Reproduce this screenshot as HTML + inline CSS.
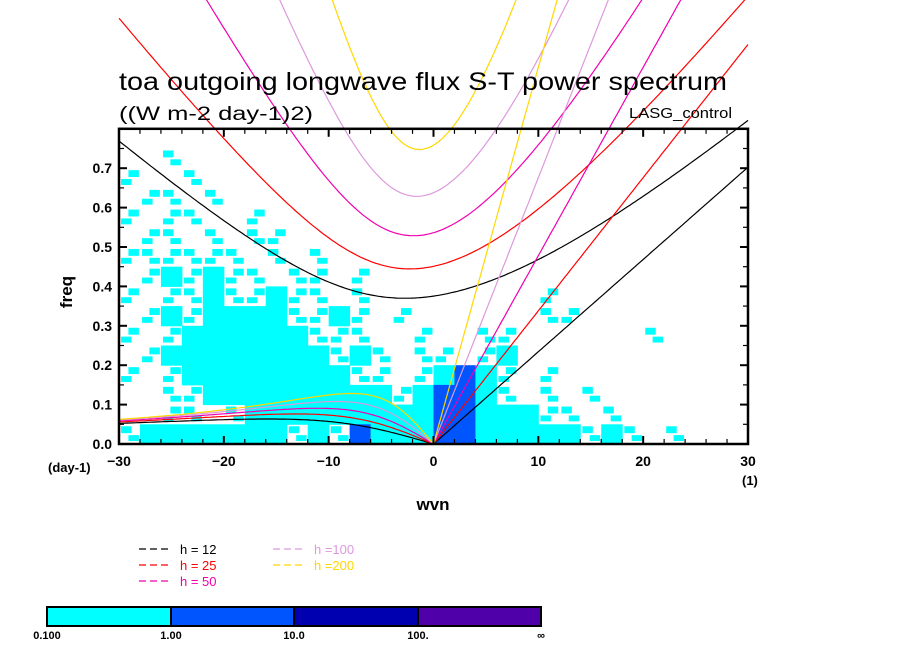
<!DOCTYPE html>
<html><head><meta charset="utf-8"><style>
html,body{margin:0;padding:0;background:#fff;}
svg{display:block;font-family:"Liberation Sans",sans-serif;}
</style></head><body>
<svg id="chart" width="904" height="654" viewBox="0 0 904 654">
<g id="field"></g>
<g id="curves"></g>
<g id="axes"></g>
<text x="119" y="90" font-size="25" textLength="608" lengthAdjust="spacingAndGlyphs">toa outgoing longwave flux S-T power spectrum</text>
<text x="119" y="120" font-size="19" textLength="194" lengthAdjust="spacingAndGlyphs">((W m-2 day-1)2)</text>
<text x="629" y="118" font-size="15" textLength="103" lengthAdjust="spacingAndGlyphs">LASG_control</text>
<text x="72" y="292" font-size="17" font-weight="bold" text-anchor="middle" transform="rotate(-90 72 292)">freq</text>
<text x="433" y="510" font-size="17" font-weight="bold" text-anchor="middle">wvn</text>
<text x="48" y="472" font-size="13" font-weight="bold">(day-1)</text>
<text x="742" y="485" font-size="13" font-weight="bold">(1)</text>
<g id="legend"></g>
<g id="colorbar"></g>
</svg>
<script>
const NS="http://www.w3.org/2000/svg";
const depths=[12,25,50,100,200];
const depthColors=["#000000","#ff0000","#f000b0","#dd99dd","#ffd700"];
const xTicks=[-30,-20,-10,0,10,20,30];
const yTicks=[0.0,0.1,0.2,0.3,0.4,0.5,0.6,0.7];
const cbLevels=["0.100","1.00","10.0","100.","\u221e"];
const cbColors=["#00ffff","#0055ff","#0000b0","#5000a8"];
// power field: rows top (0.75-0.80) to bottom (0-0.05); cols k=-30..30 step 2; c=cyan p=patchy cyan b=blue
const fieldRows=[
"..............................",
"..p...........................",
"p..p..........................",
".pp.p.........................",
"p.pp..p.......................",
".pp.p.pp......................",
"pppppp.p.p....................",
".pcpcpp.pp.p..................",
"p.ppcppcpp.p........p.........",
".pcpccccppcp.p......pp........",
"p.pccccccppp..p..pp......p....",
".pccccccccpcp.pp.pc...........",
"p.pccccccccpp.pcbcp.p.........",
"..ppcccccccccpcbbcp.p.p.......",
"..pp.pcccccccccbbcccpp.p......",
"pcccccccpcpbcccbbcccccpcp.p..."
];
const X0=119,X1=748,Y0=444,PPU=394;
function X(k){return X0+(k+30)*(X1-X0)/60;}
function Y(f){return Y0-f*PPU;}
function el(tag,attrs,parent){const e=document.createElementNS(NS,tag);for(const a in attrs)e.setAttribute(a,attrs[a]);parent.appendChild(e);return e;}

// field
const field=document.getElementById('field');
fieldRows.forEach((row,r)=>{
  for(let i=0;i<30;i++){
    const ch=row[i]||'.';
    if(ch==='.')continue;
    const k0=-30+2*i,f1=0.8-0.05*r,f0=f1-0.05;
    const x=X(k0),w=X(k0+2)-X(k0),y=Y(f1),h=Y(f0)-Y(f1);
    const col=ch==='b'?"#0055ff":"#00ffff";
    if(ch==='p'){
      const off=((i+r)%2)?0.1:0.45;
      const r1=el('rect',{x:x+w*off,y:y+h*0.1,width:w*0.5,height:h*0.35,fill:col},field);
      
      
      const r2=el('rect',{x:x+w*(0.55-off),y:y+h*0.55,width:w*0.5,height:h*0.3,fill:col},field);
      
      
    } else {
      const rc=el('rect',{x:x,y:y,width:w+0.5,height:h+0.5,fill:col},field);
      
      
    }
  }
});

// dispersion curves
const a=6.371e6,Om=7.292e-5,beta=2*Om/a,g=9.81;
function roots(ks,n){const p=-(ks*ks+2*n+1),q=-ks;const m=2*Math.sqrt(-p/3);const th=Math.acos(Math.max(-1,Math.min(1,(3*q/(2*p))*Math.sqrt(-3/p))))/3;
 return [0,1,2].map(j=>m*Math.cos(th-2*Math.PI*j/3)).sort((u,v)=>v-u);}
const curves=document.getElementById('curves');
depths.forEach((h,di)=>{
  const c=Math.sqrt(g*h),sc=Math.sqrt(c/beta),wsc=Math.sqrt(beta*c)*86400/(2*Math.PI);
  let ig=[],ros=[],kel=[];
  for(let s=-30;s<=30.001;s+=0.25){
    const ks=(s/a)*sc;const r=roots(ks,1);
    ig.push([X(s),Y(r[0]*wsc)]);
    if(s<=0)ros.push([X(s),Y((s<0?r[1]:0)*wsc)]);
    if(s>=0)kel.push([X(s),Y(c*(s/a)*86400/(2*Math.PI))]);
  }
  [['ig',ig],['rossby',ros],['kelvin',kel]].forEach(([nm,pts])=>{
    const pl=el('polyline',{points:pts.map(p=>p[0].toFixed(1)+','+p[1].toFixed(1)).join(' '),fill:'none',stroke:depthColors[di],'stroke-width':1.2},curves);
    
    
  });
});

// axes
const ax=document.getElementById('axes');
const fr=el('rect',{x:X0,y:Y(0.8),width:X1-X0,height:Y0-Y(0.8),fill:'none',stroke:'#000','stroke-width':2.5},ax);

for(let k=-30;k<=30;k+=2){const maj=k%10===0,L=maj?8:5;
  el('line',{x1:X(k),x2:X(k),y1:Y0,y2:Y0-L,stroke:'#000','stroke-width':maj?2:1.2},ax);
  el('line',{x1:X(k),x2:X(k),y1:Y(0.8),y2:Y(0.8)+L,stroke:'#000','stroke-width':maj?2:1.2},ax);}
for(let i=0;i<=16;i++){const f=i*0.05,maj=i%2===0,L=maj?8:5;
  el('line',{x1:X0,x2:X0+L,y1:Y(f),y2:Y(f),stroke:'#000','stroke-width':maj?2:1.2},ax);
  el('line',{x1:X1,x2:X1-L,y1:Y(f),y2:Y(f),stroke:'#000','stroke-width':maj?2:1.2},ax);}
xTicks.forEach(k=>{const t=el('text',{x:X(k),y:466,'font-size':14,'font-weight':'bold','text-anchor':'middle'},ax);t.textContent=k<0?'\u2212'+(-k):String(k);
  });
yTicks.forEach(f=>{const t=el('text',{x:112,y:Y(f)+5,'font-size':14,'font-weight':'bold','text-anchor':'end'},ax);t.textContent=f.toFixed(1);
  });

// legend
const lg=document.getElementById('legend');
depths.forEach((h,i)=>{const col=i<3?0:1,row=i<3?i:i-3;const lx=col?273:139,tx=col?314:180,ly=549+row*16;
  const ln=el('line',{x1:lx,x2:lx+31,y1:ly,y2:ly,stroke:depthColors[i],'stroke-width':1.2,'stroke-dasharray':'7,4'},lg);
  
  const t=el('text',{x:tx,y:ly+5,'font-size':13,fill:depthColors[i]},lg);
  t.textContent=col?('h ='+h):('h = '+h);
  });

// colorbar
const cb=document.getElementById('colorbar');
const cbx=[47,171,294,418,541];
cbColors.forEach((c,i)=>{const r=el('rect',{x:cbx[i],y:607,width:cbx[i+1]-cbx[i],height:19,fill:c,stroke:'#000','stroke-width':2},cb);
  });
cbLevels.forEach((s,i)=>{const t=el('text',{x:cbx[i],y:639,'font-size':11,'font-weight':'bold','text-anchor':'middle'},cb);t.textContent=s;
  });
</script>
</body></html>
